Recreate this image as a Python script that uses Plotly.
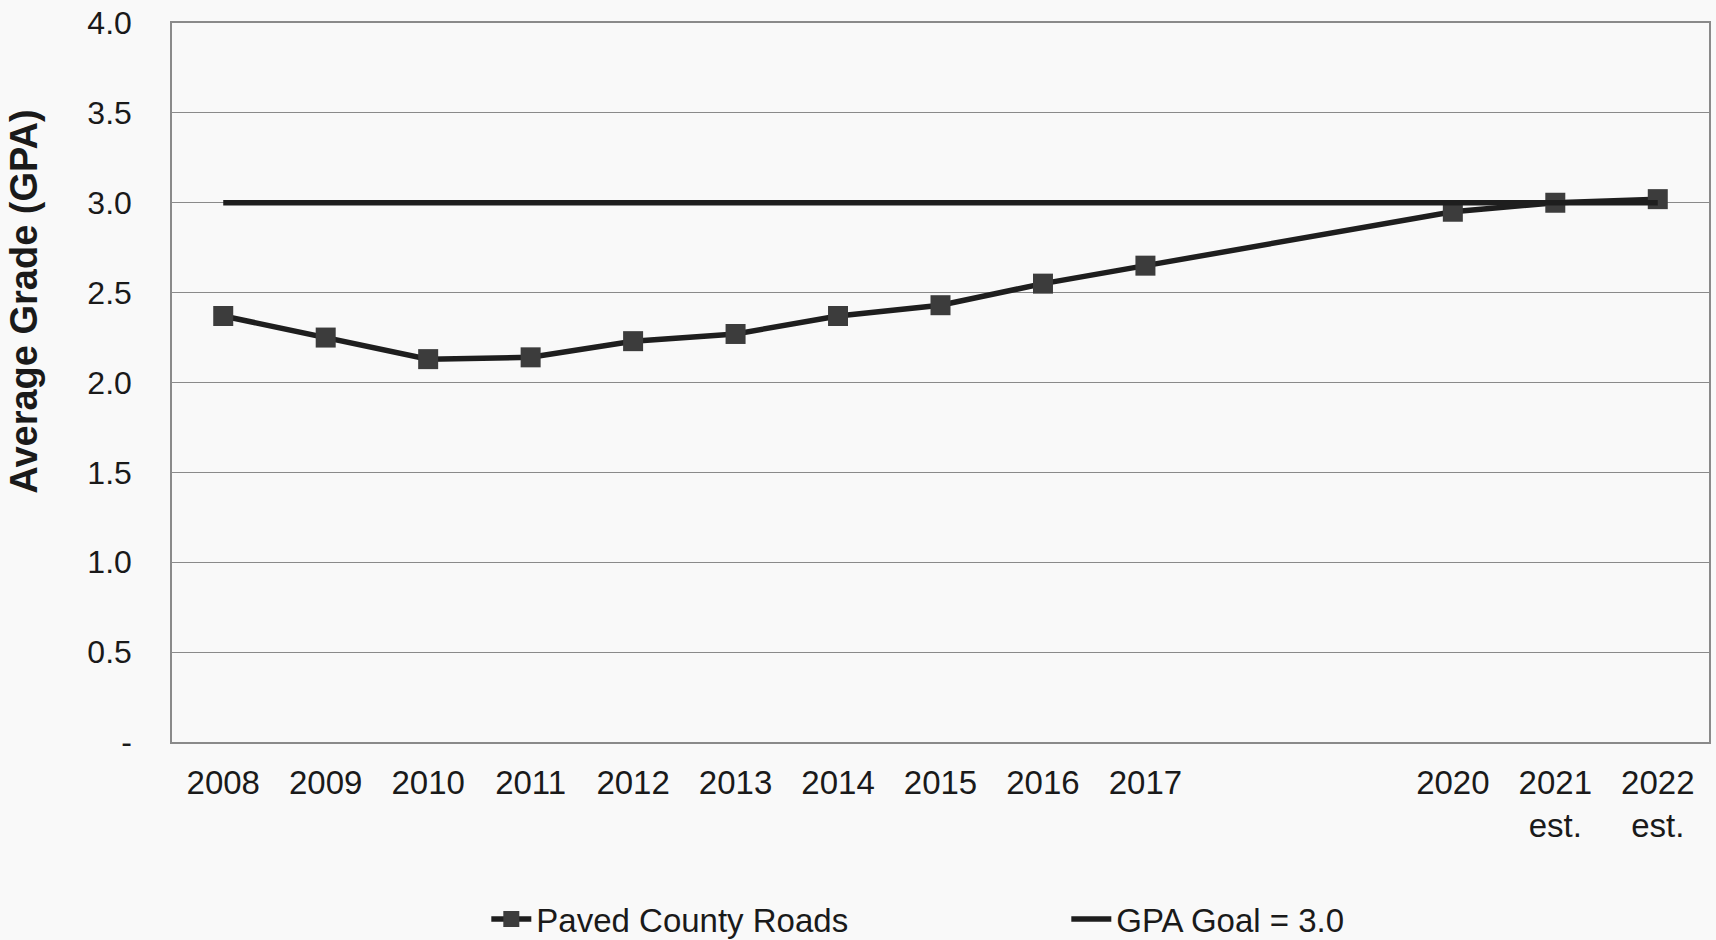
import plotly.graph_objects as go

years = [2008, 2009, 2010, 2011, 2012, 2013, 2014, 2015, 2016, 2017, 2020, 2021, 2022]
paved = [2.37, 2.25, 2.13, 2.14, 2.23, 2.27, 2.37, 2.43, 2.55, 2.65, 2.95, 3.00, 3.02]
goal_years = [2008, 2009, 2010, 2011, 2012, 2013, 2014, 2015, 2016, 2017, 2018, 2019, 2020, 2021, 2022]
goal = [3.0] * len(goal_years)

tick_years = [2008, 2009, 2010, 2011, 2012, 2013, 2014, 2015, 2016, 2017, 2020, 2021, 2022]
tick_labels = ["2008", "2009", "2010", "2011", "2012", "2013", "2014", "2015", "2016", "2017",
               "2020", "2021<br>est.", "2022<br>est."]
y_ticks = [0, 0.5, 1.0, 1.5, 2.0, 2.5, 3.0, 3.5, 4.0]
y_labels = ["-", "0.5", "1.0", "1.5", "2.0", "2.5", "3.0", "3.5", "4.0"]

FONT = "Liberation Sans, Arial, sans-serif"
BG = "#f9f9f9"

fig = go.Figure()
fig.add_trace(go.Scatter(
    x=years, y=paved, name="Paved County Roads", mode="lines+markers",
    line=dict(color="#1e1e1e", width=5.5),
    marker=dict(symbol="square", size=20, color="#3c3c3c"),
))
fig.add_trace(go.Scatter(
    x=goal_years, y=goal, name="GPA Goal = 3.0", mode="lines",
    line=dict(color="#1e1e1e", width=5.5),
))

fig.update_layout(
    width=1716, height=940,
    margin=dict(l=172, r=5, t=21, b=198),
    paper_bgcolor=BG, plot_bgcolor=BG,
    font=dict(family=FONT, size=32, color="#1a1a1a"),
    showlegend=True,
    legend=dict(orientation="h", xref="container", yref="container",
                x=0.2834, y=0.0223, xanchor="left", yanchor="middle",
                entrywidth=525, entrywidthmode="pixels",
                font=dict(size=33, family=FONT), bgcolor="rgba(0,0,0,0)", itemwidth=40),
    xaxis=dict(range=[2007.5, 2022.5], tickmode="array", tickvals=tick_years, ticktext=tick_labels,
               showgrid=False, zeroline=False, showline=True, linecolor="#8a8a8a", linewidth=1.5,
               mirror=True, ticks="outside", ticklen=11, tickcolor="rgba(0,0,0,0)",
               tickfont=dict(size=33, family=FONT)),
    yaxis=dict(range=[0, 4.0], tickmode="array", tickvals=y_ticks, ticktext=y_labels,
               showgrid=True, gridcolor="#8a8a8a", gridwidth=1.2, zeroline=False,
               showline=True, linecolor="#8a8a8a", linewidth=1.5, mirror=True,
               ticks="outside", ticklen=32, tickcolor="rgba(0,0,0,0)",
               tickfont=dict(size=32, family=FONT)),
    annotations=[dict(text="<b>Average Grade (GPA)</b>", textangle=-90,
                      xref="paper", yref="paper", x=-0.0965, y=0.612, xanchor="center", yanchor="middle",
                      showarrow=False, font=dict(size=38, family=FONT, color="#1a1a1a"))],
)

fig.write_html("out.html", config={"displayModeBar": False},
               post_script="document.body.style.margin='0';document.body.style.background='%s';" % BG)
